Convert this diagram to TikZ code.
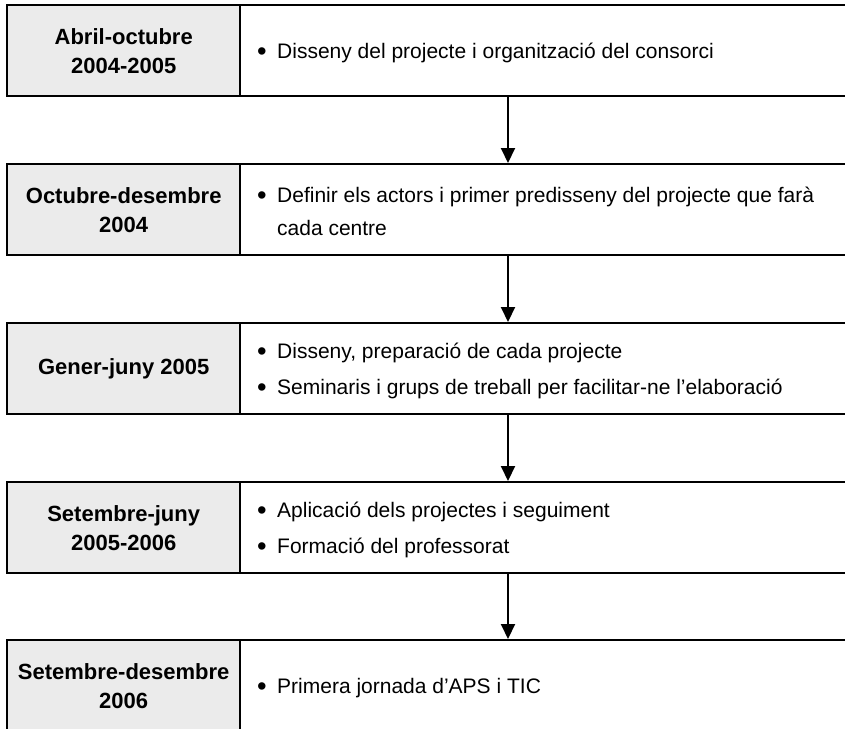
\documentclass[tikz,border=0pt]{standalone}
\usepackage{fontspec}
\usepackage{graphicx}
\setmainfont{Liberation Sans}
\usetikzlibrary{arrows.meta}
\definecolor{dategray}{HTML}{EBEBEB}
% bullet mark and the indent that continuation lines take
\newcommand\bmark{\makebox[20pt][l]{\raisebox{-2pt}{\scalebox{1.3}{\textbullet}}}}
\newcommand\bindent{\hspace*{20pt}}
\begin{document}
\begin{tikzpicture}[x=1pt,y=1pt,
  datebox/.style={draw=black, line width=2.4pt, fill=dategray,
    minimum width=233pt, minimum height=91pt, anchor=north west,
    inner sep=0pt, align=center,
    font=\bfseries\fontsize{22}{29}\selectfont},
  taskbox/.style={draw=black, line width=2.4pt, fill=white,
    minimum width=611pt, minimum height=91pt, anchor=north west,
    inner sep=0pt},
  tasktext/.style={anchor=west, inner sep=0pt, align=left,
    xshift=18pt, yshift=-2pt, font=\fontsize{21}{33}\selectfont},
  flow/.style={-{Triangle[length=15pt,width=14pt]}, line width=2pt}]
\path[use as bounding box] (0,0) rectangle (845,-728);
\clip (0,0) rectangle (845,-728);
\coordinate (ax) at (508,0);

% task frames (right column)
\node[taskbox] (r1) at (239,-4) {};
\node[taskbox] (r2) at (239,-163) {};
\node[taskbox] (r3) at (239,-322) {};
\node[taskbox] (r4) at (239,-481) {};
\node[taskbox] (r5) at (239,-639) {};

% periods (left column)
\node[datebox] (l1) at (6,-4) {Abril-octubre\\2004-2005};
\node[datebox] (l2) at (6,-163) {Octubre-desembre\\2004};
\node[datebox] (l3) at (6,-322) {Gener-juny 2005};
\node[datebox] (l4) at (6,-481) {Setembre-juny\\2005-2006};
\node[datebox] (l5) at (6,-639) {Setembre-desembre\\2006};

% task lists
\node[tasktext] (t1) at (r1.west) {\bmark Disseny del projecte i organització del consorci};
\node[tasktext] (t2) at (r2.west) {\bmark Definir els actors i primer predisseny del projecte que farà\\\bindent cada centre};
\node[tasktext] (t3) at (r3.west) {\bmark Disseny, preparació de cada projecte\\[3pt]\bmark Seminaris i grups de treball per facilitar-ne l’elaboració};
\node[tasktext] (t4) at (r4.west) {\bmark Aplicació dels projectes i seguiment\\[3pt]\bmark Formació del professorat};
\node[tasktext] (t5) at (r5.west) {\bmark Primera jornada d’APS i TIC};

% sequence arrows
\draw[flow] (r1.south -| ax) -- (r2.north -| ax);
\draw[flow] (r2.south -| ax) -- (r3.north -| ax);
\draw[flow] (r3.south -| ax) -- (r4.north -| ax);
\draw[flow] (r4.south -| ax) -- (r5.north -| ax);
\end{tikzpicture}
\end{document}
